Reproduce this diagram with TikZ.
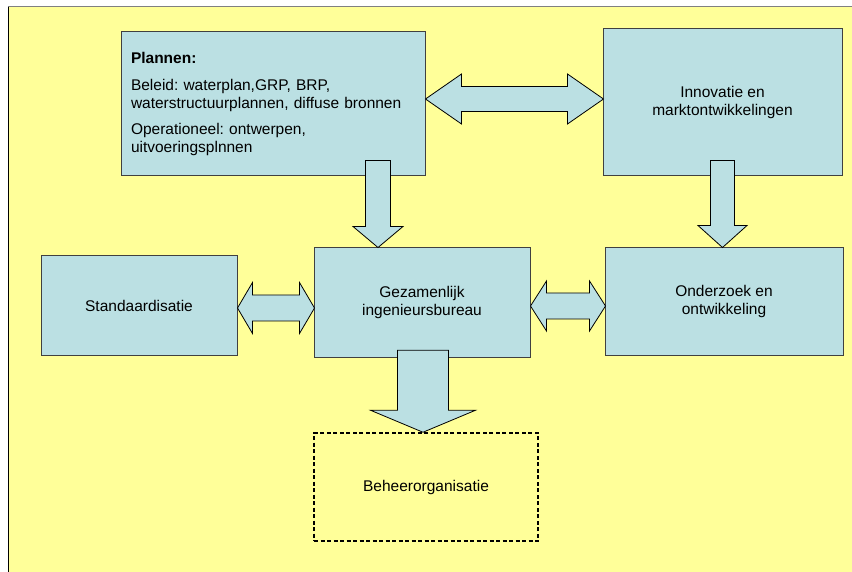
\documentclass[tikz,border=0pt]{standalone}
\usepackage{fontspec}
\setmainfont{Liberation Sans}
\frenchspacing
\usetikzlibrary{
    positioning,
    calc
}
\definecolor{PaperYellow}{RGB}{255,255,153}
\definecolor{BoxBlue}{RGB}{187,224,227}
\definecolor{EdgeGrey}{RGB}{64,64,64}

\begin{document}
\begin{tikzpicture}[
            x=1pt, y=-1pt,
            font=\fontsize{15.5}{18}\selectfont,
            box/.style={draw=EdgeGrey, fill=BoxBlue, line width=1pt, align=center, inner sep=0pt},
            dashbox/.style={draw=black, dash pattern=on 4pt off 2.5pt, line width=1.5pt, align=center, inner sep=0pt},
            blockarrow/.style={draw=black, fill=BoxBlue, line width=0.8pt, line join=miter},
        ]
          \useasboundingbox (0,0) rectangle (852,572);

          % Background sheet
          \fill[PaperYellow] (8,7) rectangle (852,572);
          \draw[gray, line width=1pt] (8,7) -- (852,7);
          \draw[black, line width=1pt] (8,7) -- (8,572);

          % Boxes
          \node[box, minimum width=304, minimum height=144, align=left, text width=284] (plan) at (273,104)
            {\textbf{Plannen:}\\[9pt]
             Beleid: waterplan,GRP, BRP,\\
             waterstructuurplannen, diffuse bronnen\\[8pt]
             Operationeel: ontwerpen,\\
             uitvoeringsplnnen};
          \node[box, minimum width=239, minimum height=147] (innov) at (722.5,102.5)
            {Innovatie en\\marktontwikkelingen};
          \node[box, minimum width=196, minimum height=99] (stand) at (139,305.5) {Standaardisatie};
          \node[box, minimum width=216, minimum height=109] (gez) at (422,302.5)
            {Gezamenlijk\\ingenieursbureau};
          \node[box, minimum width=238, minimum height=107] (onder) at (724,301.5)
            {Onderzoek en\\ontwikkeling};
          \node[dashbox, minimum width=224, minimum height=108] (beheer) at (426,487) {Beheerorganisatie};

          % Block arrows
          \draw[blockarrow] ($(plan.east)+(0,-5)$)
            -- ++(36,-25) -- ++(0,12.5) -- ++(106,0) -- ++(0,-12.5) -- ++(36,25)
            -- ++(-36,25) -- ++(0,-12.5) -- ++(-106,0) -- ++(0,12.5) -- cycle;
          \draw[blockarrow] ($(gez.north)+(-44,0)$)
            -- ++(-25,-21) -- ++(12.5,0) -- ++(0,-66) -- ++(25,0) -- ++(0,66) -- ++(12.5,0) -- cycle;
          \draw[blockarrow] (innov.south |- onder.north)
            -- ++(-24.5,-22) -- ++(12.5,0) -- ++(0,-65) -- ++(24,0) -- ++(0,65) -- ++(12.5,0) -- cycle;
          \draw[blockarrow] ($(stand.east)+(0,2.5)$)
            -- ++(15,-25.5) -- ++(0,12.5) -- ++(47,0) -- ++(0,-12.5) -- ++(15,25.5)
            -- ++(-15,25.5) -- ++(0,-12.5) -- ++(-47,0) -- ++(0,12.5) -- cycle;
          \draw[blockarrow] ($(gez.east)+(0,3.5)$)
            -- ++(16,-25) -- ++(0,12) -- ++(43,0) -- ++(0,-12) -- ++(16,25)
            -- ++(-16,25) -- ++(0,-12) -- ++(-43,0) -- ++(0,12) -- cycle;
          \draw[blockarrow] ($(beheer.north)+(-3,0)$)
            -- ++(-52.5,-22) -- ++(27,0) -- ++(0,-60) -- ++(51,0) -- ++(0,60) -- ++(27,0) -- cycle;
        \end{tikzpicture}
\end{document}
